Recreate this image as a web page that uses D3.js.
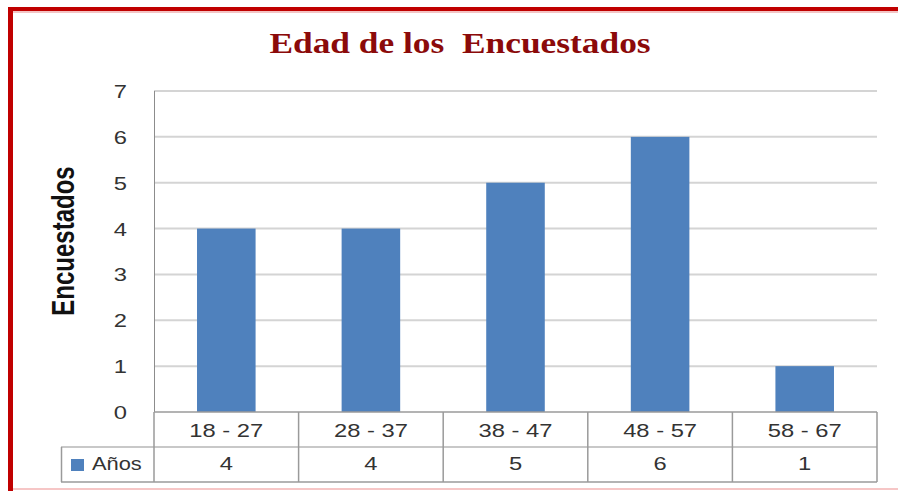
<!DOCTYPE html>
<html>
<head>
<meta charset="utf-8">
<script src="https://cdn.jsdelivr.net/npm/d3@7"></script>
<style>
  body { margin: 0; background: white; }
  text { font-family: "Liberation Sans", Arial, sans-serif; }
</style>
</head>
<body>
<div id="chart"></div>
<script>
var categories = ["18 - 27", "28 - 37", "38 - 47", "48 - 57", "58 - 67"];
var values = [4, 4, 5, 6, 1];
var yTicks = [0, 1, 2, 3, 4, 5, 6, 7];
var seriesName = "Años";
var title = "Edad de los  Encuestados";
var yTitle = "Encuestados";

var w = 898;
var h = 491;
var stretch = 1.25;
var labelSize = 19;

var svg = d3.select("#chart")
  .append("svg")
  .attr("width", w)
  .attr("height", h);

// red frame
svg.append("rect")
  .attr("x", 8).attr("y", 7)
  .attr("width", 5).attr("height", h - 7)
  .attr("fill", "#c00000");
svg.append("rect")
  .attr("x", 8).attr("y", 7)
  .attr("width", w - 8).attr("height", 4)
  .attr("fill", "#c00000");
svg.append("rect")
  .attr("x", 13).attr("y", 11)
  .attr("width", w - 13).attr("height", 2)
  .attr("fill", "#f3c4c4");
svg.append("rect")
  .attr("x", 13).attr("y", 488)
  .attr("width", w - 13).attr("height", 2)
  .attr("fill", "#f6c6c6");

var xScale = d3.scaleBand()
  .domain(categories)
  .range([154, 877])
  .paddingInner(0);

var yScale = d3.scaleLinear()
  .domain([0, 7])
  .range([412, 91]);

// gridlines
svg.selectAll("line.grid")
  .data(yTicks.slice(1))
  .enter()
  .append("line")
  .attr("class", "grid")
  .attr("x1", 154)
  .attr("x2", 877)
  .attr("y1", function(d) { return yScale(d); })
  .attr("y2", function(d) { return yScale(d); })
  .attr("stroke", "#d4d4d4")
  .attr("stroke-width", 2);

// y tick labels
svg.selectAll("text.ytick")
  .data(yTicks)
  .enter()
  .append("text")
  .attr("class", "ytick")
  .attr("text-anchor", "end")
  .attr("transform", function(d) {
    return "translate(127," + (yScale(d) + 7) + ") scale(" + stretch + ",1)";
  })
  .attr("font-size", labelSize)
  .attr("fill", "#333")
  .text(function(d) { return d; });

// bars
var barW = xScale.bandwidth() * 0.405;
svg.selectAll("rect.bar")
  .data(values)
  .enter()
  .append("rect")
  .attr("class", "bar")
  .attr("x", function(d, i) { return xScale(categories[i]) + xScale.bandwidth() / 2 - barW / 2; })
  .attr("y", function(d) { return yScale(d); })
  .attr("width", barW)
  .attr("height", function(d) { return yScale(0) - yScale(d); })
  .attr("fill", "#4f81bd");

// y axis line
svg.append("line")
  .attr("x1", 154.5).attr("x2", 154.5)
  .attr("y1", yScale(7)).attr("y2", yScale(0))
  .attr("stroke", "#8c8c8c").attr("stroke-width", 1);

// data table
var row1 = yScale(0);
var row2 = 447;
var row3 = 482;
var tableColor = "#9a9a9a";

svg.append("line")
  .attr("x1", 154).attr("x2", 877)
  .attr("y1", row1).attr("y2", row1)
  .attr("stroke", tableColor).attr("stroke-width", 1.5);
svg.append("line")
  .attr("x1", 61).attr("x2", 877)
  .attr("y1", row2).attr("y2", row2)
  .attr("stroke", "#c8c8c8").attr("stroke-width", 2);
svg.append("line")
  .attr("x1", 61).attr("x2", 877)
  .attr("y1", row3).attr("y2", row3)
  .attr("stroke", tableColor).attr("stroke-width", 1.5);
svg.append("line")
  .attr("x1", 61.5).attr("x2", 61.5)
  .attr("y1", row2).attr("y2", row3)
  .attr("stroke", tableColor).attr("stroke-width", 1.5);

var dividers = categories.map(function(c) { return xScale(c); }).concat([877]);
svg.selectAll("line.divider")
  .data(dividers)
  .enter()
  .append("line")
  .attr("class", "divider")
  .attr("x1", function(d) { return d; })
  .attr("x2", function(d) { return d; })
  .attr("y1", row1)
  .attr("y2", row3)
  .attr("stroke", tableColor)
  .attr("stroke-width", 1.5);

svg.selectAll("text.cat")
  .data(categories)
  .enter()
  .append("text")
  .attr("class", "cat")
  .attr("text-anchor", "middle")
  .attr("transform", function(d) {
    return "translate(" + (xScale(d) + xScale.bandwidth() / 2) + "," + (row1 + 25) + ") scale(" + stretch + ",1)";
  })
  .attr("font-size", labelSize)
  .attr("fill", "#333")
  .text(function(d) { return d; });

svg.selectAll("text.val")
  .data(values)
  .enter()
  .append("text")
  .attr("class", "val")
  .attr("text-anchor", "middle")
  .attr("transform", function(d, i) {
    return "translate(" + (xScale(categories[i]) + xScale.bandwidth() / 2) + "," + (row2 + 23) + ") scale(" + stretch + ",1)";
  })
  .attr("font-size", labelSize)
  .attr("fill", "#333")
  .text(function(d) { return d; });

// legend key in table
svg.append("rect")
  .attr("x", 71).attr("y", 459)
  .attr("width", 13).attr("height", 12)
  .attr("fill", "#4f81bd");
svg.append("text")
  .attr("transform", "translate(92," + (row2 + 23) + ") scale(1.15,1)")
  .attr("font-size", labelSize)
  .attr("fill", "#333")
  .text(seriesName);

// title
svg.append("text")
  .attr("text-anchor", "middle")
  .attr("transform", "translate(460,53) scale(1.22,1)")
  .style("font-family", "'Liberation Serif', 'Times New Roman', serif")
  .style("font-weight", "bold")
  .style("white-space", "pre")
  .attr("font-size", 29)
  .attr("fill", "#8b0a0a")
  .text(title);

// y axis title
svg.append("text")
  .attr("text-anchor", "middle")
  .attr("transform", "translate(74,241) rotate(-90) scale(1,1.3)")
  .style("font-weight", "bold")
  .attr("font-size", 24)
  .attr("fill", "#111")
  .text(yTitle);
</script>
</body>
</html>
